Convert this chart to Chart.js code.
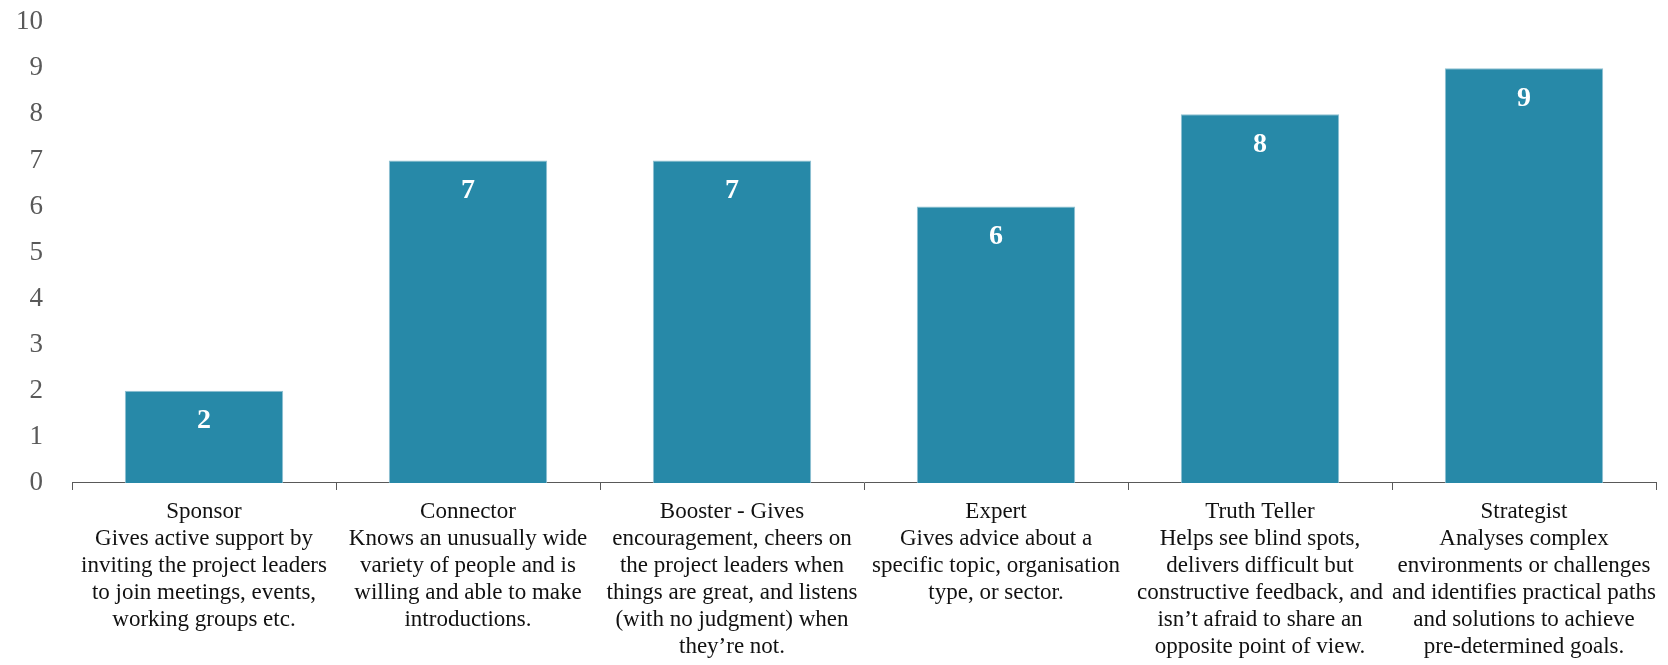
<!DOCTYPE html>
<html>
<head>
<meta charset="utf-8">
<script src="https://cdn.jsdelivr.net/npm/chart.js@4/dist/chart.umd.min.js"></script>
<style>
    html, body { margin: 0; padding: 0; background: #fff; }
    #wrap { width: 1668px; height: 665px; position: relative; }
</style>
</head>
<body>
<div id="wrap"><canvas id="myChart"></canvas></div>
<script>
var categories = [
    ['Sponsor', 'Gives active support by', 'inviting the project leaders', 'to join meetings, events,', 'working groups etc.'],
    ['Connector', 'Knows an unusually wide', 'variety of people and is', 'willing and able to make', 'introductions.'],
    ['Booster - Gives', 'encouragement, cheers on', 'the project leaders when', 'things are great, and listens', '(with no judgment) when', 'they\u2019re not.'],
    ['Expert', 'Gives advice about a', 'specific topic, organisation', 'type, or sector.'],
    ['Truth Teller', 'Helps see blind spots,', 'delivers difficult but', 'constructive feedback, and', 'isn\u2019t afraid to share an', 'opposite point of view.'],
    ['Strategist', 'Analyses complex', 'environments or challenges', 'and identifies practical paths', 'and solutions to achieve', 'pre-determined goals.']
];
var values = [2, 7, 7, 6, 8, 9];
var yTicks = [0, 1, 2, 3, 4, 5, 6, 7, 8, 9, 10];

(function () {
    'use strict';

    var serif = '"Liberation Serif", "DejaVu Serif", serif';

    // white numbers inside the top of each bar
    var valueLabels = {
        id: 'valueLabels',
        afterDatasetsDraw: function (chart) {
            var ctx = chart.ctx;
            var meta = chart.getDatasetMeta(0);
            ctx.save();
            ctx.fillStyle = '#ffffff';
            ctx.font = 'bold 28px ' + serif;
            ctx.textAlign = 'center';
            ctx.textBaseline = 'middle';
            meta.data.forEach(function (bar, i) {
                ctx.fillText(String(values[i]), bar.x, bar.y + 30);
            });
            ctx.restore();
        }
    };

    new Chart(document.getElementById('myChart'), {
        type: 'bar',
        data: {
            labels: categories,
            datasets: [
                {
                    data: values,
                    backgroundColor: '#2789a8',
                    borderColor: '#8fc1d2',
                    borderWidth: 1,
                    barPercentage: 0.6,
                    categoryPercentage: 1
                }
            ]
        },
        options: {
            responsive: true,
            maintainAspectRatio: false,
            animation: false,
            layout: {
                padding: { top: 0, right: 12, bottom: 0, left: 0 }
            },
            plugins: {
                legend: { display: false },
                tooltip: { enabled: false }
            },
            scales: {
                x: {
                    offset: true,
                    afterFit: function (scale) { scale.height -= 3; },
                    grid: {
                        display: true,
                        offset: true,
                        drawOnChartArea: false,
                        drawTicks: true,
                        tickLength: 7,
                        color: '#595959'
                    },
                    border: { display: true, color: '#595959', width: 1 },
                    ticks: {
                        color: '#111111',
                        maxRotation: 0,
                        autoSkip: false,
                        padding: 8,
                        font: { family: serif, size: 23, lineHeight: 1.174 }
                    }
                },
                y: {
                    min: 0,
                    max: 10,
                    afterFit: function (scale) { scale.width = 72; },
                    afterBuildTicks: function (scale) {
                        scale.ticks = yTicks.map(function (v) { return { value: v }; });
                    },
                    grid: { display: false, tickLength: 23 },
                    border: { display: false },
                    ticks: {
                        color: '#595959',
                        padding: 6,
                        font: { family: serif, size: 27 }
                    }
                }
            }
        },
        plugins: [valueLabels]
    });
})();
</script>
</body>
</html>
